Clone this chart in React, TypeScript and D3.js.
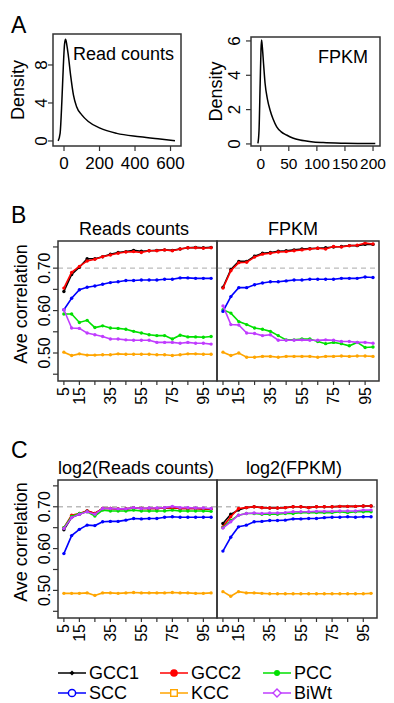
import React from "react";
import * as d3 from "d3";

const FONT = "'Liberation Sans', Arial, Helvetica, sans-serif";

// Panel A density curves
const readsX = [-33, -22, -12, -4, 3, 9, 16, 24, 38, 53, 71, 100, 137, 203, 297, 428, 541, 625];
const readsDensity = [0, 0.8, 4.2, 7.8, 10.2, 10.7, 10.1, 9.05, 6.8, 4.85, 3.6, 2.75, 2.05, 1.35, 0.8, 0.45, 0.2, 0.02];
const fpkmX = [-5, -3, -1, 0.5, 1.5, 3, 5, 7.7, 12, 16.6, 22, 28.5, 36, 46, 57, 70, 90, 111, 150, 204];
const fpkmDensity = [0.03, 0.8, 3.5, 5.5, 6.05, 5.6, 4.7, 3.55, 2.6, 1.98, 1.45, 1.0, 0.72, 0.52, 0.35, 0.23, 0.13, 0.08, 0.04, 0.02];

const readsXTicks = [0, 200, 400, 600];
const readsYTicks = [0, 4, 8];
const fpkmXTicks = [0, 50, 100, 150, 200];
const fpkmYTicks = [0, 2, 4, 6];

// Panels B, C
const windowSizes = [5, 10, 15, 20, 25, 30, 35, 40, 45, 50, 55, 60, 65, 70, 75, 80, 85, 90, 95, 100];
const xTickValues = [5, 15, 25, 35, 45, 55, 65, 75, 85, 95];
const xTickLabels = [5, 15, 35, 55, 75, 95];
const yTickValues = [0.45, 0.5, 0.55, 0.6, 0.65, 0.7, 0.75];
const yTickLabels = [0.5, 0.6, 0.7];

const seriesNames = ["GCC1", "GCC2", "PCC", "SCC", "KCC", "BiWt"];
const seriesColors = ["#000000", "#ff0000", "#00e000", "#0000ff", "#ffa500", "#c03cff"];

const bReadsGCC1 = [0.645, 0.685, 0.702, 0.722, 0.722, 0.727, 0.733, 0.737, 0.739, 0.742, 0.740, 0.741, 0.742, 0.743, 0.742, 0.745, 0.748, 0.749, 0.748, 0.749];
const bReadsGCC2 = [0.653, 0.690, 0.704, 0.717, 0.721, 0.727, 0.731, 0.735, 0.738, 0.739, 0.737, 0.741, 0.741, 0.743, 0.741, 0.745, 0.748, 0.748, 0.747, 0.748];
const bReadsPCC = [0.592, 0.592, 0.572, 0.577, 0.560, 0.564, 0.559, 0.558, 0.556, 0.551, 0.547, 0.543, 0.541, 0.541, 0.533, 0.542, 0.538, 0.538, 0.537, 0.539];
const bReadsSCC = [0.602, 0.629, 0.649, 0.655, 0.658, 0.662, 0.666, 0.668, 0.671, 0.671, 0.672, 0.672, 0.672, 0.674, 0.674, 0.677, 0.677, 0.676, 0.676, 0.676];
const bReadsKCC = [0.502, 0.494, 0.498, 0.495, 0.495, 0.496, 0.496, 0.498, 0.497, 0.497, 0.497, 0.497, 0.496, 0.496, 0.494, 0.496, 0.498, 0.498, 0.497, 0.497];
const bReadsBiWt = [0.602, 0.559, 0.558, 0.547, 0.543, 0.539, 0.533, 0.533, 0.531, 0.530, 0.530, 0.530, 0.525, 0.525, 0.525, 0.523, 0.525, 0.523, 0.523, 0.521];

const bFpkmGCC1 = [0.655, 0.697, 0.716, 0.716, 0.728, 0.735, 0.737, 0.740, 0.741, 0.743, 0.745, 0.746, 0.747, 0.748, 0.750, 0.751, 0.753, 0.753, 0.756, 0.756];
const bFpkmGCC2 = [0.653, 0.694, 0.713, 0.714, 0.726, 0.733, 0.735, 0.738, 0.739, 0.741, 0.743, 0.745, 0.747, 0.745, 0.751, 0.750, 0.753, 0.754, 0.759, 0.757];
const bFpkmPCC = [0.602, 0.594, 0.574, 0.567, 0.559, 0.556, 0.551, 0.541, 0.531, 0.531, 0.533, 0.533, 0.527, 0.522, 0.525, 0.522, 0.517, 0.525, 0.513, 0.514];
const bFpkmSCC = [0.598, 0.633, 0.654, 0.654, 0.661, 0.665, 0.668, 0.668, 0.670, 0.672, 0.672, 0.674, 0.674, 0.674, 0.674, 0.676, 0.676, 0.676, 0.679, 0.678];
const bFpkmKCC = [0.502, 0.494, 0.500, 0.490, 0.490, 0.492, 0.492, 0.490, 0.492, 0.492, 0.492, 0.492, 0.490, 0.492, 0.492, 0.493, 0.492, 0.493, 0.493, 0.492];
const bFpkmBiWt = [0.611, 0.567, 0.566, 0.547, 0.546, 0.541, 0.543, 0.530, 0.530, 0.530, 0.531, 0.530, 0.530, 0.531, 0.530, 0.527, 0.527, 0.525, 0.525, 0.523];

const cReadsGCC1 = [0.645, 0.675, 0.682, 0.690, 0.684, 0.696, 0.696, 0.695, 0.695, 0.697, 0.696, 0.696, 0.696, 0.697, 0.698, 0.696, 0.696, 0.696, 0.695, 0.695];
const cReadsGCC2 = [0.650, 0.680, 0.684, 0.690, 0.684, 0.696, 0.696, 0.695, 0.695, 0.697, 0.696, 0.696, 0.696, 0.697, 0.698, 0.696, 0.696, 0.696, 0.695, 0.695];
const cReadsPCC = [0.650, 0.677, 0.684, 0.688, 0.678, 0.692, 0.690, 0.690, 0.690, 0.692, 0.690, 0.690, 0.690, 0.690, 0.692, 0.690, 0.690, 0.690, 0.690, 0.689];
const cReadsSCC = [0.588, 0.631, 0.646, 0.656, 0.655, 0.664, 0.665, 0.665, 0.668, 0.672, 0.671, 0.672, 0.672, 0.675, 0.676, 0.675, 0.675, 0.675, 0.675, 0.675];
const cReadsKCC = [0.493, 0.493, 0.493, 0.494, 0.488, 0.494, 0.494, 0.493, 0.494, 0.495, 0.494, 0.494, 0.494, 0.494, 0.495, 0.494, 0.494, 0.493, 0.493, 0.494];
const cReadsBiWt = [0.648, 0.674, 0.682, 0.688, 0.682, 0.696, 0.696, 0.695, 0.695, 0.698, 0.696, 0.697, 0.697, 0.698, 0.701, 0.698, 0.698, 0.697, 0.697, 0.696];

const cFpkmGCC1 = [0.660, 0.682, 0.692, 0.698, 0.700, 0.698, 0.697, 0.697, 0.698, 0.700, 0.700, 0.698, 0.700, 0.700, 0.700, 0.701, 0.701, 0.701, 0.702, 0.702];
const cFpkmGCC2 = [0.652, 0.676, 0.696, 0.698, 0.700, 0.698, 0.697, 0.697, 0.698, 0.700, 0.700, 0.698, 0.700, 0.700, 0.700, 0.701, 0.701, 0.701, 0.702, 0.702];
const cFpkmPCC = [0.650, 0.667, 0.680, 0.684, 0.684, 0.682, 0.682, 0.682, 0.684, 0.684, 0.686, 0.686, 0.686, 0.686, 0.686, 0.688, 0.686, 0.688, 0.688, 0.688];
const cFpkmSCC = [0.594, 0.627, 0.652, 0.656, 0.664, 0.665, 0.667, 0.667, 0.668, 0.671, 0.671, 0.672, 0.672, 0.674, 0.675, 0.675, 0.676, 0.675, 0.676, 0.676];
const cFpkmKCC = [0.497, 0.486, 0.497, 0.494, 0.494, 0.493, 0.492, 0.492, 0.492, 0.492, 0.492, 0.492, 0.492, 0.492, 0.492, 0.492, 0.492, 0.492, 0.492, 0.493];
const cFpkmBiWt = [0.649, 0.664, 0.680, 0.684, 0.685, 0.684, 0.685, 0.685, 0.686, 0.688, 0.688, 0.688, 0.689, 0.689, 0.689, 0.690, 0.690, 0.690, 0.692, 0.692];

const bReads = [bReadsGCC1, bReadsGCC2, bReadsPCC, bReadsSCC, bReadsKCC, bReadsBiWt];
const bFpkm = [bFpkmGCC1, bFpkmGCC2, bFpkmPCC, bFpkmSCC, bFpkmKCC, bFpkmBiWt];
const cReads = [cReadsGCC1, cReadsGCC2, cReadsPCC, cReadsSCC, cReadsKCC, cReadsBiWt];
const cFpkm = [cFpkmGCC1, cFpkmGCC2, cFpkmPCC, cFpkmSCC, cFpkmKCC, cFpkmBiWt];

const VText = ({ x, y, anchor, size, dy, children }: any) => (
  <text transform={`translate(${x},${y}) rotate(-90)`} textAnchor={anchor} fontSize={size} dy={dy}>
    {children}
  </text>
);

function DensityPanel({ xs, ys, x0, x1, y0, y1, xDomain, yDomain, xTicks, yTicks, title, titleX, titleAnchor, yLabelX, yTickX, xTickSize }: any) {
  const x = d3.scaleLinear().domain(xDomain).range([x0, x1]);
  const y = d3.scaleLinear().domain(yDomain).range([y1, y0]);
  const line = d3
    .line<number>()
    .x((_, i) => x(xs[i]))
    .y((d) => y(d))
    .curve(d3.curveMonotoneX);
  return (
    <g>
      <path d={line(ys) || ""} fill="none" stroke="#000" strokeWidth={1.5} />
      <rect x={x0} y={y0} width={x1 - x0} height={y1 - y0} fill="none" stroke="#333" strokeWidth={1.5} />
      {xTicks.map((t: number) => (
        <g key={"x" + t}>
          <line x1={x(t)} x2={x(t)} y1={y1} y2={y1 + 5} stroke="#333" strokeWidth={1.2} />
          <text x={x(t)} y={y1 + 23} textAnchor="middle" fontSize={xTickSize}>
            {t}
          </text>
        </g>
      ))}
      {yTicks.map((t: number) => (
        <g key={"y" + t}>
          <line x1={x0} x2={x0 - 5} y1={y(t)} y2={y(t)} stroke="#333" strokeWidth={1.2} />
          <VText x={yTickX} y={y(t)} anchor="middle" size={17}>
            {t}
          </VText>
        </g>
      ))}
      <VText x={yLabelX} y={(y0 + y1) / 2} anchor="middle" size={18}>
        Density
      </VText>
      <text x={titleX} y={y0 + 26} textAnchor={titleAnchor} fontSize={18}>
        {title}
      </text>
    </g>
  );
}

function CorrPanel({ data, x0, x1, y0, y1, title, titleX, showY, yLabelY }: any) {
  const x = d3.scaleLinear().domain([1.2, 103.8]).range([x0, x1]);
  const y = d3.scaleLinear().domain([0.434, 0.764]).range([y1, y0]);
  const line = d3
    .line<number>()
    .x((_, i) => x(windowSizes[i]))
    .y((d) => y(d));
  return (
    <g>
      <line x1={x0} x2={x1} y1={y(0.7)} y2={y(0.7)} stroke="#bbbbbb" strokeWidth={1.3} strokeDasharray="5,4" />
      {data.map((vals: number[], si: number) => (
        <g key={si}>
          <path d={line(vals) || ""} fill="none" stroke={seriesColors[si]} strokeWidth={1.6} />
          {vals.map((v, i) => (
            <circle key={i} cx={x(windowSizes[i])} cy={y(v)} r={1.7} fill={seriesColors[si]} />
          ))}
        </g>
      ))}
      <rect x={x0} y={y0} width={x1 - x0} height={y1 - y0} fill="none" stroke="#333" strokeWidth={1.5} />
      {xTickValues.map((t) => (
        <line key={"xt" + t} x1={x(t)} x2={x(t)} y1={y1} y2={y1 + 4} stroke="#333" strokeWidth={1.2} />
      ))}
      {xTickLabels.map((t) => (
        <VText key={"xl" + t} x={x(t)} y={y1 + 6} anchor="end" size={16} dy="0.35em">
          {t}
        </VText>
      ))}
      {showY && (
        <g>
          {yTickValues.map((t) => (
            <line key={"yt" + t} x1={x0} x2={x0 - 5} y1={y(t)} y2={y(t)} stroke="#333" strokeWidth={1.2} />
          ))}
          {yTickLabels.map((t) => (
            <VText key={"yl" + t} x={50} y={y(t)} anchor="middle" size={16}>
              {t.toFixed(2)}
            </VText>
          ))}
          <VText x={27} y={yLabelY} anchor="middle" size={18}>
            Ave correlation
          </VText>
        </g>
      )}
      <text x={titleX} y={y0 - 6} textAnchor="middle" fontSize={18}>
        {title}
      </text>
    </g>
  );
}

function Legend() {
  const cols = [58, 160, 263];
  const rows = [673, 693];
  return (
    <g>
      {seriesNames.map((name, i) => {
        const lx = cols[i % 3];
        const ly = rows[Math.floor(i / 3)];
        const mx = lx + 14;
        const c = seriesColors[i];
        let marker: any = null;
        if (i === 0) marker = <path d={`M${mx},${ly - 2.5}L${mx + 2.5},${ly}L${mx},${ly + 2.5}L${mx - 2.5},${ly}Z`} fill={c} />;
        if (i === 1) marker = <circle cx={mx} cy={ly} r={3.8} fill={c} />;
        if (i === 2) marker = <circle cx={mx} cy={ly} r={3} fill={c} />;
        if (i === 3) marker = <circle cx={mx} cy={ly} r={3.6} fill="#fff" stroke={c} strokeWidth={1.5} />;
        if (i === 4) marker = <rect x={mx - 3.3} y={ly - 3.3} width={6.6} height={6.6} fill="#fff" stroke={c} strokeWidth={1.4} />;
        if (i === 5) marker = <path d={`M${mx},${ly - 4}L${mx + 4},${ly}L${mx},${ly + 4}L${mx - 4},${ly}Z`} fill="#fff" stroke={c} strokeWidth={1.4} />;
        return (
          <g key={name}>
            <line x1={lx} x2={lx + 28} y1={ly} y2={ly} stroke={c} strokeWidth={1.5} />
            {marker}
            <text x={lx + 31} y={ly + 6} fontSize={18}>
              {name}
            </text>
          </g>
        );
      })}
    </g>
  );
}

export default function App() {
  return (
    <svg width={394} height={703} style={{ position: "absolute", left: 0, top: 0, background: "#fff" }} fontFamily={FONT} fill="#000">
      <rect x={0} y={0} width={394} height={703} fill="#fff" />
      <text x={11} y={33} fontSize={23}>A</text>
      <text x={11} y={223} fontSize={23}>B</text>
      <text x={11} y={458} fontSize={23}>C</text>

      <DensityPanel
        xs={readsX}
        ys={readsDensity}
        x0={53}
        x1={181}
        y0={34}
        y1={146}
        xDomain={[-62, 659]}
        yDomain={[-0.53, 11.26]}
        xTicks={readsXTicks}
        yTicks={readsYTicks}
        title="Read counts"
        titleX={73}
        titleAnchor="start"
        yLabelX={24}
        yTickX={47}
        xTickSize={17}
      />
      <DensityPanel
        xs={fpkmX}
        ys={fpkmDensity}
        x0={251}
        x1={380}
        y0={37}
        y1={146}
        xDomain={[-17.3, 212.4]}
        yDomain={[-0.12, 6.23]}
        xTicks={fpkmXTicks}
        yTicks={fpkmYTicks}
        title="FPKM"
        titleX={368}
        titleAnchor="end"
        yLabelX={222}
        yTickX={240}
        xTickSize={15.5}
      />

      <CorrPanel data={bReads} x0={58} x1={217} y0={241} y1={381} title="Reads counts" titleX={134} showY={true} yLabelY={304} />
      <CorrPanel data={bFpkm} x0={217} x1={379} y0={241} y1={381} title="FPKM" titleX={293} showY={false} />

      <CorrPanel data={cReads} x0={58} x1={217} y0={480} y1={618} title="log2(Reads counts)" titleX={136} showY={true} yLabelY={542} />
      <CorrPanel data={cFpkm} x0={217} x1={377} y0={480} y1={618} title="log2(FPKM)" titleX={294} showY={false} />

      <Legend />
    </svg>
  );
}
